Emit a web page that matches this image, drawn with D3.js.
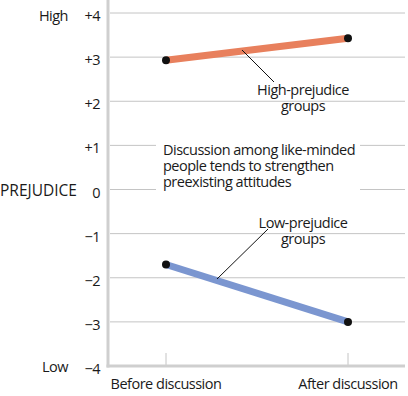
<!DOCTYPE html>
<html>
<head>
	<meta charset="utf-8">
	<script src="https://d3js.org/d3.v7.min.js"></script>
	<style>
		body { margin: 0; background: #fff; }
		text { font-family: "Open Sans", "Noto Sans", sans-serif; fill: #1a1a1a; font-size: 14.5px; letter-spacing: -0.5px; }
	</style>
</head>
<body>
	<svg width="408" height="396"></svg>
	<script>
		// data
		var stages = ['Before discussion', 'After discussion'];
		var highPrejudice = [2.93, 3.43];
		var lowPrejudice = [-1.70, -3.0];
		var yTicks = [4, 3, 2, 1, 0, -1, -2, -3, -4];
		var tickLabels = ['+4', '+3', '+2', '+1', '0', '\u22121', '\u22122', '\u22123', '\u22124'];

		var svg = d3.select('svg');

		var x = d3.scalePoint()
			.domain(stages)
			.range([166, 348]);

		var y = d3.scaleLinear()
			.domain([-4, 4])
			.range([366, 13]);

		// gridlines
		svg.append('g')
			.selectAll('line')
			.data(yTicks.filter(function(d) { return d > -4; }))
			.enter()
			.append('line')
			.attr('x1', 110).attr('x2', 405)
			.attr('y1', d => y(d)).attr('y2', d => y(d))
			.style('stroke', '#c4c4c4')
			.style('stroke-width', 1);

		// small ticks at the x categories
		svg.append('g')
			.selectAll('line')
			.data(stages)
			.enter()
			.append('line')
			.attr('x1', d => x(d)).attr('x2', d => x(d))
			.attr('y1', y(-4) - 13).attr('y2', y(-4))
			.style('stroke', '#c4c4c4')
			.style('stroke-width', 1);

		// axis frame
		svg.append('line')
			.attr('x1', 108).attr('x2', 108)
			.attr('y1', 0).attr('y2', y(-4) + 1.5)
			.style('stroke', '#cfcfcf').style('stroke-width', 3);
		svg.append('line')
			.attr('x1', 106.5).attr('x2', 405)
			.attr('y1', y(-4)).attr('y2', y(-4))
			.style('stroke', '#cfcfcf').style('stroke-width', 3);

		// y tick labels
		svg.append('g')
			.selectAll('text')
			.data(yTicks)
			.enter()
			.append('text')
			.attr('x', 100)
			.attr('y', d => y(d) + 8)
			.attr('text-anchor', 'end')
			.text((d, i) => tickLabels[i]);

		svg.append('text').attr('x', 68).attr('y', y(4) + 8)
			.attr('text-anchor', 'end').text('High');
		svg.append('text').attr('x', 68).attr('y', y(-4) + 6)
			.attr('text-anchor', 'end').text('Low');
		svg.append('text').attr('x', 0).attr('y', y(0) + 6)
			.style('font-size', '15.5px').style('letter-spacing', '0px').text('PREJUDICE');

		// x labels
		svg.append('g')
			.selectAll('text')
			.data(stages)
			.enter()
			.append('text')
			.attr('x', d => x(d))
			.attr('y', 389)
			.attr('text-anchor', 'middle')
			.text(d => d);

		// annotation box
		svg.append('rect')
			.attr('x', 156).attr('y', 139).attr('width', 204).attr('height', 54)
			.style('fill', '#fff');
		var note = svg.append('text')
			.attr('x', 163).attr('y', 155);
		['Discussion among like-minded', 'people tends to strengthen', 'preexisting attitudes']
			.forEach(function(t, i) {
				note.append('tspan').attr('x', 163).attr('dy', i ? 16 : 0).text(t);
			});

		// series
		var line = d3.line()
			.x((d, i) => x(stages[i]))
			.y(d => y(d));

		var series = [
			{ values: highPrejudice, color: '#e8805d' },
			{ values: lowPrejudice, color: '#7b96d0' }
		];

		series.forEach(function(s) {
			svg.append('path')
				.datum(s.values)
				.attr('d', line)
				.style('fill', 'none')
				.style('stroke', s.color)
				.style('stroke-width', 7);
			svg.selectAll(null)
				.data(s.values)
				.enter()
				.append('circle')
				.attr('cx', (d, i) => x(stages[i]))
				.attr('cy', d => y(d))
				.attr('r', 4)
				.style('fill', '#111');
		});

		// callouts
		function callout(lines, cx, cy, x1, y1, x2, y2) {
			svg.append('line')
				.attr('x1', x1).attr('y1', y1).attr('x2', x2).attr('y2', y2)
				.style('stroke', '#111').style('stroke-width', 1);
			var t = svg.append('text')
				.attr('text-anchor', 'middle');
			lines.forEach(function(l, i) {
				t.append('tspan').attr('x', cx).attr('y', cy + i * 16).text(l);
			});
		}
		callout(['High-prejudice', 'groups'], 303, 95, 242, 50, 274, 82);
		callout(['Low-prejudice', 'groups'], 303, 228, 217, 279, 268, 229);
	</script>
</body>
</html>
